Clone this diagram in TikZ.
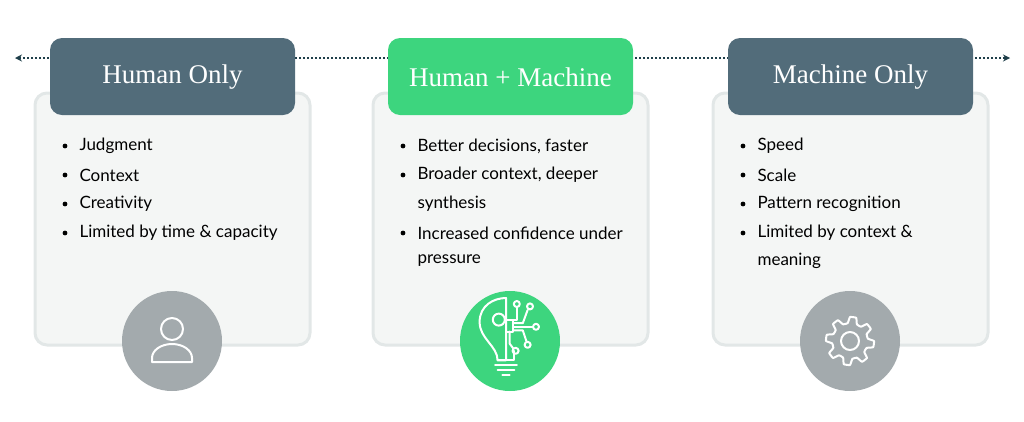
\documentclass[tikz,border=0pt]{standalone}
\usepackage{fontspec}
\setmainfont{Lato}
\newfontfamily\headfont{Liberation Serif}
\usetikzlibrary{arrows.meta}
\definecolor{card}{HTML}{F4F6F5}
\definecolor{cardline}{HTML}{E2E7E7}
\definecolor{dark}{HTML}{526C7A}
\definecolor{grn}{HTML}{3DD57E}
\definecolor{circ}{HTML}{A3AAAD}
\definecolor{linec}{HTML}{1F3F4A}
\begin{document}
\begin{tikzpicture}[x=1pt,y=-1pt,
 cardbox/.style={fill=card,draw=cardline,line width=3pt,rounded corners=12pt},
 headbox/.style={rounded corners=12pt,text=white,font=\headfont\fontsize{27}{30}\selectfont},
 bul/.style={anchor=west,font=\fontsize{17}{20}\selectfont,text=black},
 ic/.style={draw=white,line width=2pt,line cap=round,line join=round}]
\useasboundingbox (0,0) rectangle (1024,421);
\coordinate (L) at (15,58); \coordinate (R) at (1010,58);
\draw[linec,line width=2pt,dotted,{Stealth[length=7pt,width=7pt]}-{Stealth[length=7pt,width=7pt]}] (L) -- (R);
\foreach \x/\c/\t [count=\i] in {35/dark/Human Only,373/grn/Human + Machine,713/dark/Machine Only}{
 \draw[cardbox] (\x,93) rectangle ++(275,252);
 \fill[\c,rounded corners=12pt] (\x+15,38) rectangle ++(245,77);
 \node[headbox] (h\i) at (\x+137.5,77) {\t};
}
\foreach \x/\c [count=\i] in {172/circ,510/grn,850/circ}{
 \fill[\c] (\x,341) circle (50);
 \coordinate (c\i) at (\x,341);
}
\def\bl#1#2#3{\fill (#1+30,#2) circle (2.4); \node[bul] at (#1+41,#2) {#3};}
\bl{35}{146}{Judgment}
\bl{35}{175}{Context}
\bl{35}{204}{Creativity}
\bl{35}{233}{Limited by time \& capacity}
\bl{373}{146}{Better decisions, faster}
\bl{373}{175}{Broader context, deeper}
\node[bul] at (414,204) {synthesis};
\bl{373}{233}{Increased confidence under}
\node[bul] at (414,261) {pressure};
\bl{713}{146}{Speed}
\bl{713}{175}{Scale}
\bl{713}{204}{Pattern recognition}
\bl{713}{233}{Limited by context \&}
\node[bul] at (754,261) {meaning};
% person
\draw[ic] (172,329) circle (11);
\draw[ic] (152,362) -- (152,358) arc[start angle=180,end angle=0,x radius=20,y radius=-14] -- (192,362) -- cycle;
% gear
\begin{scope}[shift={(850,341)}]
\draw[ic] (0,0) circle (9);
\draw[ic] plot[smooth cycle,tension=0.2] coordinates {
 (0:24)(15:24)(22.5:18)(37.5:18)(45:24)(60:24)(67.5:18)(82.5:18)(90:24)(105:24)(112.5:18)(127.5:18)(135:24)(150:24)(157.5:18)(172.5:18)(180:24)(195:24)(202.5:18)(217.5:18)(225:24)(240:24)(247.5:18)(262.5:18)(270:24)(285:24)(292.5:18)(307.5:18)(315:24)(330:24)(337.5:18)(352.5:18)};
\end{scope}
% bulb
\begin{scope}[shift={(506,334)},scale=1.2]
\draw[ic] (-7,22) .. controls (-7,10) and (-22,4) .. (-22,-10) .. controls (-22,-24) and (-10,-30) .. (0,-30) -- (0,22) -- cycle;
\draw[ic] (-7,22) -- (7,22) -- (7,14);
\draw[ic] (-9,26) -- (9,26); \draw[ic] (-7,30) -- (7,30); \draw[ic] (-3,34) -- (3,34);
\draw[ic] (-6,-12) circle (5);
\draw[ic] (0,-12) rectangle (6,-2);
\draw[ic] (6,-9) -- (14,-9) -- (18,-20); \draw[ic] (20,-23) circle (2.5);
\draw[ic] (6,-12) -- (9,-12) -- (9,-22); \draw[ic] (9,-25) circle (2.5);
\draw[ic] (6,-6) -- (22,-6); \draw[ic] (25,-6) circle (2.5);
\draw[ic] (6,-3) -- (14,-3) -- (17,6); \draw[ic] (18,9) circle (2.5);
\draw[ic] (3,-2) -- (3,8) -- (6,12); \draw[ic] (8,14) circle (2.5);
\end{scope}
\end{tikzpicture}
\end{document}
